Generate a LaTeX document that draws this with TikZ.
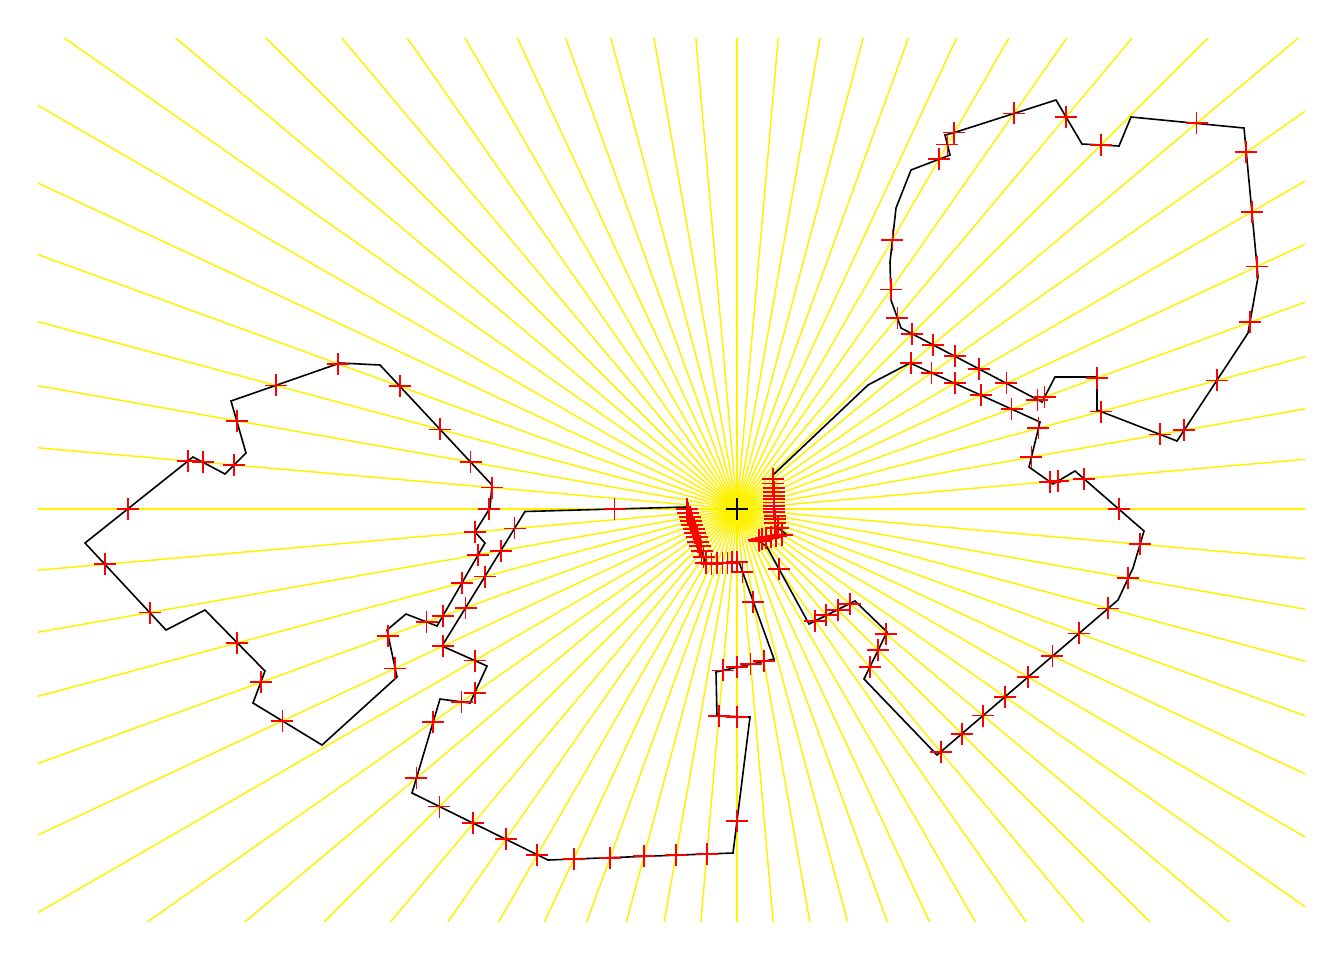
\documentclass[tikz,border=0pt]{standalone}
\usetikzlibrary{calc}
\def\polyA{492/485, 490/508, 475/532, 485/543, 437/626, 406/614, 387/630, 397/677, 322/745, 253/703, 265/671, 205/610, 166/630, 85/543, 193/457, 225/474, 246/453, 231/401, 340/363, 380/365, 492/485}
\def\polyB{686/507, 525/511.5, 442/646, 487/666, 470/703, 440/699, 412/793, 548/860, 733/853, 750/717, 717/716, 716/672, 774/659, 739/562, 706/564, 686/507}
\def\polyC{773/475, 868/385, 910/363, 1040/422, 1029/467, 1053/484, 1075/471, 1144/531, 1133/568, 1118/600, 937/755, 864/679, 887/632, 855/601, 809/624, 767/547, 758/540, 786/534, 775/526, 773/475}
\def\polyD{1042/402, 1055/377, 1097/377, 1097/410, 1177/441, 1248/333, 1258/277, 1244/128, 1131/117, 1119/146, 1082/144, 1056/100, 953/133, 945/135, 950/155, 911/170, 896/208, 890/262, 891/300, 901/328, 1042/402}
\def\cx{737}\def\cy{509}
% red marks where every ray meets the segment (#1,#2)-(#3,#4)
\newcommand\segmarks[4]{%
  \pgfmathsetmacro\sgex{(#3-#1)/100}%
  \pgfmathsetmacro\sgey{(#4-#2)/100}%
  \pgfmathsetmacro\sgwx{(#1-\cx)/100}%
  \pgfmathsetmacro\sgwy{(#2-\cy)/100}%
  \foreach \a in {0,5,...,355}{%
    \pgfmathsetmacro\rdx{cos(\a)}%
    \pgfmathsetmacro\rdy{sin(\a)}%
    \pgfmathsetmacro\rden{\rdx*(\sgey)-\rdy*(\sgex)}%
    \pgfmathsetmacro\rnt{\sgwx*(\sgey)-\sgwy*(\sgex)}%
    \pgfmathsetmacro\rns{\sgwx*(\rdy)-\sgwy*(\rdx)}%
    \ifdim\rden pt<0pt
      \pgfmathsetmacro\rden{-(\rden)}%
      \pgfmathsetmacro\rnt{-(\rnt)}%
      \pgfmathsetmacro\rns{-(\rns)}%
    \fi
    \ifdim\rden pt>0.00005pt
     \ifdim\rnt pt>0pt
      \ifdim\rns pt<0pt\else
       \ifdim\rns pt<\rden pt
         \pgfmathsetmacro\tpar{\rnt/\rden}%
         \draw[mk] ({\cx+100*\tpar*\rdx},{\cy+100*\tpar*\rdy}) +(-11,0) -- +(11,0) +(0,-11) -- +(0,11);
       \fi
      \fi
     \fi
    \fi
  }%
}
\newcommand\ringmarks[1]{%
  \foreach \x/\y [remember=\x as \px (initially -1), remember=\y as \py (initially -1)] in #1 {%
    \ifdim\px pt>-0.5pt \segmarks{\px}{\py}{\x}{\y}\fi
  }%
}
\begin{document}
\begin{tikzpicture}[x=0.5pt,y=-0.5pt,
  ray/.style={yellow,line width=0.75pt},
  outline/.style={black,line width=0.8pt,line join=miter},
  mk/.style={red,line width=0.9pt}]
\useasboundingbox (0,0) rectangle (1344,960);
\coordinate (C) at (\cx,\cy);
% rays
\begin{scope}
\clip (38,38) rectangle (1305,921);
\foreach \a in {0,5,...,355}{
  \draw[ray] (C) -- ++(\a:1100);
}
\end{scope}
% polygon
\draw[outline] (492,485) \foreach \x/\y in \polyA {-- (\x,\y)} -- cycle;
\draw[outline] (686,507) \foreach \x/\y in \polyB {-- (\x,\y)} -- cycle;
\draw[outline] (773,475) \foreach \x/\y in \polyC {-- (\x,\y)} -- cycle;
\draw[outline] (1042,402) \foreach \x/\y in \polyD {-- (\x,\y)} -- cycle;
% intersection marks
\ringmarks{\polyA}
\ringmarks{\polyB}
\ringmarks{\polyC}
\ringmarks{\polyD}
% centre
\node[inner sep=0pt, minimum size=0pt] (ctr) at (C) {};
\draw[black,line width=0.85pt] (ctr) +(-11,0) -- +(11,0) +(0,-11) -- +(0,11);
\end{tikzpicture}
\end{document}
